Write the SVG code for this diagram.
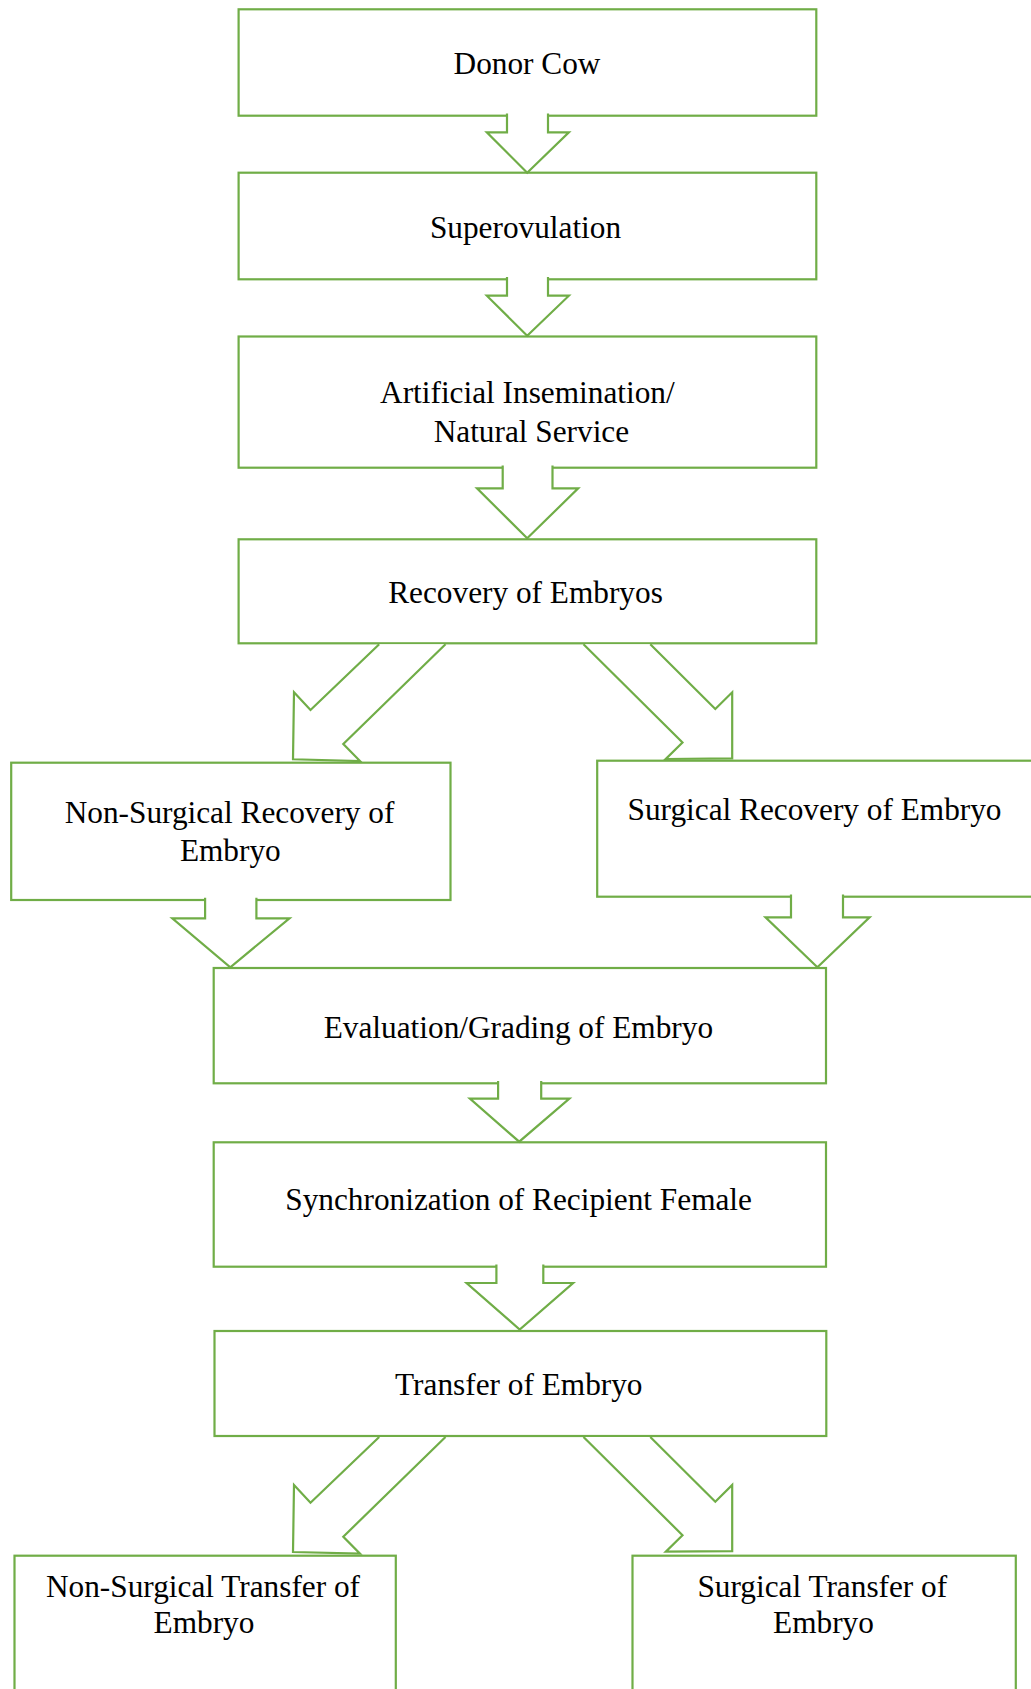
<svg xmlns="http://www.w3.org/2000/svg" width="1031" height="1689" viewBox="0 0 1031 1689">
<style>
.box{fill:#fff;stroke:#70AD47;stroke-width:2.2}
.arr{fill:#fff;stroke:#70AD47;stroke-width:2.2;stroke-linejoin:miter}
.t{font-family:"Liberation Serif","Times New Roman",serif;font-size:31.3px;fill:#000;text-anchor:middle}
</style>
<rect width="1031" height="1689" fill="#fff"/>
<g id="nodes">
<g id="donor"><rect class="box" x="238.6" y="9.3" width="577.7" height="106.4"/><text class="t" x="527" y="74">Donor Cow</text></g>
<g id="superovulation"><rect class="box" x="238.6" y="172.7" width="577.7" height="106.6"/><text class="t" x="525.5" y="238">Superovulation</text></g>
<g id="ai"><rect class="box" x="238.6" y="336.5" width="577.7" height="131.2"/><text class="t" x="527.4" y="403.3">Artificial Insemination/</text><text class="t" x="531.4" y="441.7">Natural Service</text></g>
<g id="recovery"><rect class="box" x="238.6" y="539.3" width="577.7" height="104"/><text class="t" x="525.5" y="602.7">Recovery of Embryos</text></g>
<g id="nonsurg_rec"><rect class="box" x="11.2" y="762.7" width="439.3" height="137.3"/><text class="t" x="229.5" y="823.3">Non-Surgical Recovery of</text><text class="t" x="230.3" y="861">Embryo</text></g>
<g id="surg_rec"><rect class="box" x="597.2" y="760.7" width="440" height="136"/><text class="t" x="814.5" y="820">Surgical Recovery of Embryo</text></g>
<g id="evaluation"><rect class="box" x="213.7" y="968" width="612.3" height="115.3"/><text class="t" x="518.4" y="1038.3">Evaluation/Grading of Embryo</text></g>
<g id="sync"><rect class="box" x="213.7" y="1142.3" width="612.3" height="124.4"/><text class="t" x="518.6" y="1210">Synchronization of Recipient Female</text></g>
<g id="transfer"><rect class="box" x="214.5" y="1331" width="611.8" height="105"/><text class="t" x="518.8" y="1395">Transfer of Embryo</text></g>
<g id="nonsurg_tr"><rect class="box" x="14.5" y="1555.7" width="381.3" height="150"/><text class="t" x="203" y="1596.7">Non-Surgical Transfer of</text><text class="t" x="204" y="1633.3">Embryo</text></g>
<g id="surg_tr"><rect class="box" x="632.5" y="1555.7" width="383.3" height="150"/><text class="t" x="822.3" y="1596.7">Surgical Transfer of</text><text class="t" x="823.5" y="1633.3">Embryo</text></g>
</g>
<g id="connectors">
<path class="arr" d="M507,113.5 V132.3 H486.8 L527.2,172.7 L568.9,132.3 H548 V113.5"/>
<path class="arr" d="M507,277.1 V295.7 H486.8 L527.2,335.7 L568.9,295.7 H548 V277.1"/>
<path class="arr" d="M502.7,465.5 V488.3 H477 L527.2,538.3 L578.2,488.3 H552.5 V465.5"/>
<path class="arr" d="M379.2,644.3 L310.5,710 L294,692.3 L293,759.3 L360,761 L343.3,744 L445.5,644.3"/>
<path class="arr" d="M583.5,644.3 L682.5,742.5 L665.8,759 L732.2,758.4 L732.2,692.3 L715.3,709 L650.3,644.3"/>
<path class="arr" d="M205.1,897.8 V918.3 H172.3 L230.3,967.3 L289.5,918.3 H256.4 V897.8"/>
<path class="arr" d="M791,894.5 V917.3 H765.5 L817.4,967.3 L869.6,917.3 H843 V894.5"/>
<path class="arr" d="M498.1,1081.1 V1098.7 H469.9 L519.2,1141.7 L569.4,1098.7 H541.2 V1081.1"/>
<path class="arr" d="M496.4,1264.5 V1283 H466.6 L519.7,1329.5 L573.1,1283 H543.3 V1264.5"/>
<path class="arr" d="M379.2,1437 L310.5,1502.7 L294,1485 L293,1552 L360,1553.7 L343.3,1536.7 L445.5,1437"/>
<path class="arr" d="M583.5,1437 L682.5,1535.2 L665.8,1551.7 L732.2,1551.1 L732.2,1485 L715.3,1501.7 L650.3,1437"/>
</g>
</svg>
